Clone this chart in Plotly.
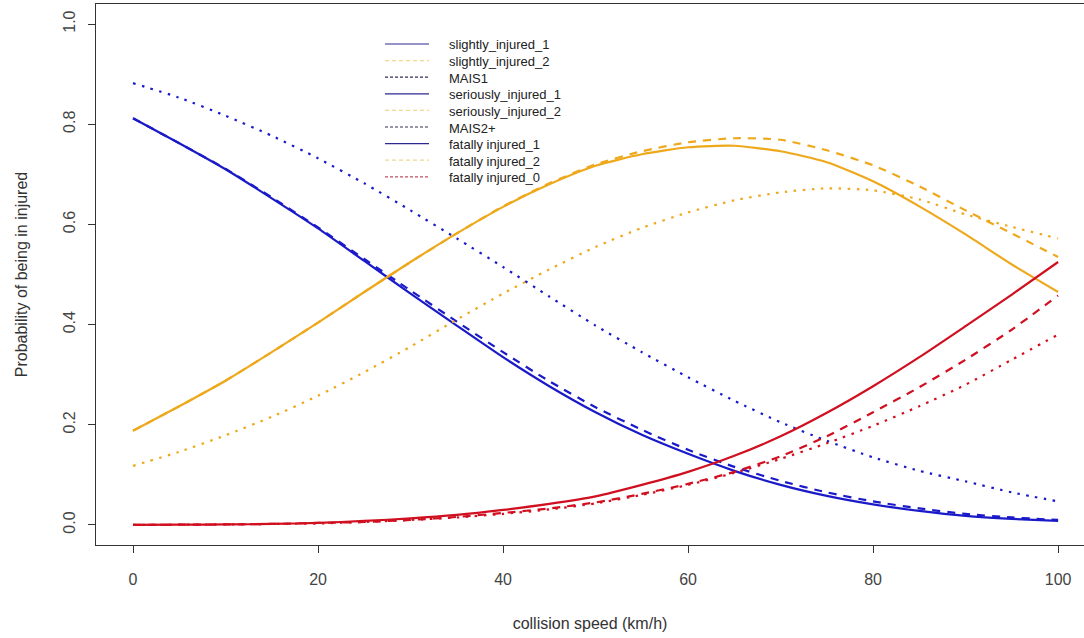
import plotly.graph_objects as go

# ---------------- data ----------------
speed = [0, 5, 10, 15, 20, 25, 30, 35, 40, 45, 50, 55, 60, 65, 70, 75, 80, 85, 90, 95, 100]

slightly_injured_1 = [0.812, 0.762, 0.710, 0.652, 0.592, 0.527, 0.462, 0.398, 0.335, 0.277, 0.225,
                      0.180, 0.142, 0.108, 0.080, 0.058, 0.041, 0.028, 0.018, 0.012, 0.008]
slightly_injured_2 = [0.812, 0.762, 0.711, 0.654, 0.594, 0.531, 0.468, 0.406, 0.345, 0.287, 0.235,
                      0.190, 0.150, 0.116, 0.088, 0.065, 0.047, 0.033, 0.022, 0.015, 0.010]
MAIS1 = [0.882, 0.853, 0.817, 0.777, 0.732, 0.682, 0.628, 0.572, 0.515, 0.456, 0.398,
         0.345, 0.295, 0.248, 0.205, 0.168, 0.135, 0.108, 0.087, 0.065, 0.047]

seriously_injured_1 = [0.188, 0.237, 0.288, 0.345, 0.404, 0.465, 0.525, 0.582, 0.635, 0.680, 0.717,
                       0.740, 0.754, 0.757, 0.746, 0.724, 0.686, 0.636, 0.580, 0.520, 0.465]
seriously_injured_2 = [0.188, 0.237, 0.288, 0.345, 0.404, 0.465, 0.525, 0.582, 0.636, 0.682, 0.720,
                       0.746, 0.764, 0.772, 0.769, 0.748, 0.718, 0.676, 0.628, 0.582, 0.535]
MAIS2_plus = [0.118, 0.146, 0.179, 0.216, 0.258, 0.305, 0.356, 0.410, 0.462, 0.510, 0.555,
              0.593, 0.624, 0.648, 0.664, 0.672, 0.668, 0.650, 0.620, 0.595, 0.572]

fatally_injured_1 = [0.000, 0.0005, 0.001, 0.002, 0.004, 0.008, 0.013, 0.020, 0.030, 0.042, 0.057,
                     0.080, 0.106, 0.138, 0.177, 0.224, 0.277, 0.335, 0.397, 0.460, 0.525]
fatally_injured_2 = [0.000, 0.0005, 0.001, 0.002, 0.004, 0.006, 0.010, 0.016, 0.024, 0.033, 0.045,
                     0.062, 0.082, 0.106, 0.137, 0.177, 0.225, 0.275, 0.330, 0.390, 0.458]
fatally_injured_0 = [0.000, 0.0005, 0.001, 0.002, 0.003, 0.006, 0.010, 0.015, 0.022, 0.031, 0.043,
                     0.060, 0.080, 0.104, 0.132, 0.163, 0.198, 0.237, 0.280, 0.330, 0.380]

legend_labels = ["slightly_injured_1", "slightly_injured_2", "MAIS1",
                 "seriously_injured_1", "seriously_injured_2", "MAIS2+",
                 "fatally injured_1", "fatally injured_2", "fatally injured_0"]

x_ticks = [0, 20, 40, 60, 80, 100]
y_ticks = [0.0, 0.2, 0.4, 0.6, 0.8, 1.0]
y_tick_text = ["0.0", "0.2", "0.4", "0.6", "0.8", "1.0"]

# ---------------- styles ----------------
BLUE = "#1a1ac8"
ORANGE = "#eea81c"
RED = "#d01020"
SOLID = "solid"
DASH = "8px,7px"
DOT = "2.5px,6.5px"

series = [
    (slightly_injured_1, BLUE, SOLID), (slightly_injured_2, BLUE, DASH), (MAIS1, BLUE, DOT),
    (seriously_injured_1, ORANGE, SOLID), (seriously_injured_2, ORANGE, DASH), (MAIS2_plus, ORANGE, DOT),
    (fatally_injured_1, RED, SOLID), (fatally_injured_2, RED, DASH), (fatally_injured_0, RED, DOT),
]

fig = go.Figure()
for (vals, col, dash), name in zip(series, legend_labels):
    fig.add_trace(go.Scatter(
        x=speed, y=vals, mode="lines", name=name, showlegend=False,
        line=dict(color=col, width=2.2, dash=dash, shape="spline", smoothing=0.6),
    ))

# ---------------- manual legend (R style, no box) ----------------
L, T, W, H = 96, 4, 988, 541          # plot area in pixels
leg_cols = ["#2a2a90", "#f0d890", "#303050", "#2a2a90", "#f0d890", "#303050",
            "#2a2a90", "#f0d890", "#c05060"]
leg_dash = ["solid", "4px,3px", "3px,2px"] * 3
def px_x(p):
    return (p - L) / W
def px_y(p):
    return (T + H - p) / H

for i, lab in enumerate(legend_labels):
    yc = 44 + 16.6 * i
    fig.add_shape(type="line", xref="paper", yref="paper",
                  x0=px_x(385), x1=px_x(429), y0=px_y(yc), y1=px_y(yc),
                  line=dict(color=leg_cols[i], width=1.2, dash=leg_dash[i]))
    fig.add_annotation(xref="paper", yref="paper", x=px_x(447), y=px_y(yc + 1),
                       text=lab, showarrow=False, xanchor="left", yanchor="middle",
                       font=dict(family="Liberation Sans, Arial", size=13, color="#222222"))

fig.update_layout(
    width=1084, height=638,
    margin=dict(l=L, r=0, t=T, b=638 - T - H, pad=0),
    paper_bgcolor="white", plot_bgcolor="white",
    font=dict(family="Liberation Sans, Arial", size=16, color="#333333"),
    showlegend=False,
)
fig.update_xaxes(
    range=[-4, 102.8], tickvals=x_ticks, ticktext=[str(v) for v in x_ticks],
    showgrid=False, zeroline=False, showline=True, mirror=True,
    linecolor="#333333", linewidth=1.2, ticks="outside", ticklen=7,
    tickcolor="#333333", tickwidth=1, ticklabelstandoff=13,
    tickfont=dict(size=16, color="#444444"),
    title=dict(text="collision speed (km/h)", standoff=30,
               font=dict(size=16, color="#333333")),
)
fig.update_yaxes(
    range=[-0.04, 1.04], tickvals=y_ticks, ticktext=y_tick_text, tickangle=-90,
    showgrid=False, zeroline=False, showline=True, mirror=False,
    linecolor="#333333", linewidth=1.2, ticks="outside", ticklen=7,
    tickcolor="#333333", tickwidth=1, ticklabelstandoff=7,
    tickfont=dict(size=16, color="#444444"),
    title=dict(text="Probability of being in injured", standoff=28,
               font=dict(size=16, color="#333333")),
)

fig.write_html("out.html", config={"displayModeBar": False},
               post_script="document.body.style.margin='0';")
